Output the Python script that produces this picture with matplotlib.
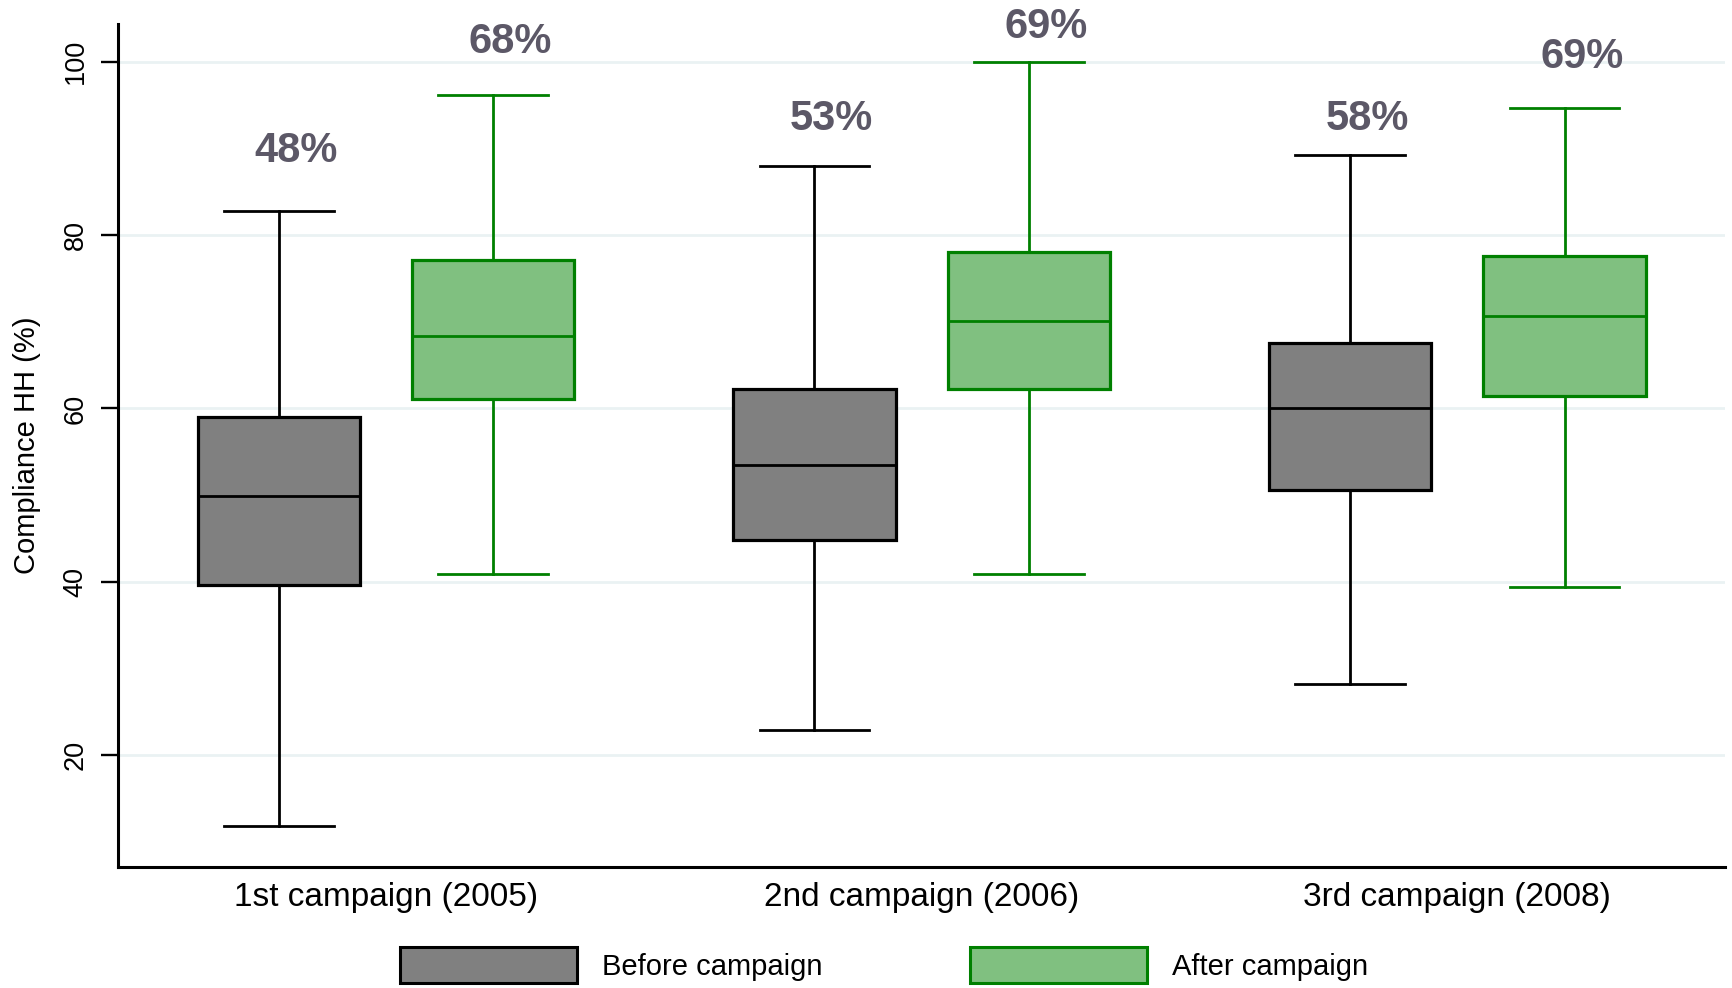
import numpy as np
import matplotlib
matplotlib.use("Agg")
import matplotlib.pyplot as plt
from matplotlib.patches import Patch

plt.rcParams['font.family'] = ['Liberation Sans', 'DejaVu Sans']

# --------------------------
# Data (compliance HH, %)
# --------------------------
campaigns = ["1st campaign (2005)", "2nd campaign (2006)", "3rd campaign (2008)"]
series_names = ["Before campaign", "After campaign"]

# box statistics per campaign: lower whisker, Q1, median, Q3, upper whisker
before_lo = [11.9, 22.9, 28.2]
before_q1 = [39.6, 44.8, 50.6]
before_med = [49.9, 53.5, 60.1]
before_q3 = [59.0, 62.3, 67.6]
before_hi = [82.8, 88.0, 89.2]

after_lo = [40.9, 40.9, 39.4]
after_q1 = [61.1, 62.2, 61.4]
after_med = [68.3, 70.1, 70.7]
after_q3 = [77.1, 78.0, 77.6]
after_hi = [96.1, 100.0, 94.6]

# mean compliance shown above each box
before_pct = ["48%", "53%", "58%"]
after_pct = ["68%", "69%", "69%"]
before_pct_y = [89.7, 93.4, 93.4]
after_pct_y = [102.2, 104.0, 100.5]

# --------------------------
# Styles
# --------------------------
grey_face, grey_edge = "#808080", "black"
green_face, green_edge = "#80c080", "#008000"
label_color = "#5c5867"
offset = 0.2
box_w = 0.303
cap_w = 0.205


def make_stats(lo, q1, med, q3, hi):
    return [dict(whislo=a, q1=b, med=c, q3=d, whishi=e, fliers=[])
            for a, b, c, d, e in zip(lo, q1, med, q3, hi)]


fig = plt.figure(figsize=(17.32, 9.88), dpi=100)
ax = fig.add_axes([0.0681, 0.1225, 0.928, 0.8532])

x = np.arange(len(campaigns))

for stats, pos, face, edge in [
    (make_stats(before_lo, before_q1, before_med, before_q3, before_hi), x - offset, grey_face, grey_edge),
    (make_stats(after_lo, after_q1, after_med, after_q3, after_hi), x + offset, green_face, green_edge),
]:
    ax.bxp(stats, positions=pos, widths=box_w, capwidths=cap_w,
           patch_artist=True, showfliers=False,
           boxprops=dict(facecolor=face, edgecolor=edge, linewidth=2.3),
           whiskerprops=dict(color=edge, linewidth=2.0),
           capprops=dict(color=edge, linewidth=2.0),
           medianprops=dict(color=edge, linewidth=2.0),
           zorder=3)

# percentage labels
for xs, labels, ys in [(x - offset, before_pct, before_pct_y),
                       (x + offset, after_pct, after_pct_y)]:
    for xi, lab, yi in zip(xs, labels, ys):
        ax.text(xi + 0.032, yi, lab, ha="center", va="center",
                fontsize=30, fontweight="bold",
                color=label_color, zorder=4)

ax.set_xlim(-0.5, 2.5)
ax.set_ylim(7.13, 104.33)
ax.set_yticks([20, 40, 60, 80, 100])
ax.set_xticks(x)
ax.set_xticklabels(campaigns, fontsize=24)
ax.tick_params(axis="x", length=0, pad=11)
ax.tick_params(axis="y", length=12, width=1.7, pad=9, labelsize=19.5,
               labelrotation=90)
for t in ax.get_yticklabels():
    t.set_va("center")

ax.set_ylabel("Compliance HH (%)", fontsize=21)
ax.yaxis.set_label_coords(-0.048, 0.5)

ax.grid(axis="y", color="#eaf2f3", linewidth=2, zorder=0)
ax.set_axisbelow(True)
for s in ["top", "right"]:
    ax.spines[s].set_visible(False)
for s in ["left", "bottom"]:
    ax.spines[s].set_linewidth(2.2)

handles = [Patch(facecolor=grey_face, edgecolor=grey_edge, linewidth=2.2),
           Patch(facecolor=green_face, edgecolor=green_edge, linewidth=2.2)]
fig.legend(handles, series_names, loc="upper left",
           bbox_to_anchor=(400 / 1732, 1 - 947 / 988), ncol=2,
           frameon=False, fontsize=21, handlelength=6.07, handleheight=1.51,
           handletextpad=0.86, columnspacing=5.06, borderpad=0, borderaxespad=0)

fig.savefig("out.png", dpi=100)
